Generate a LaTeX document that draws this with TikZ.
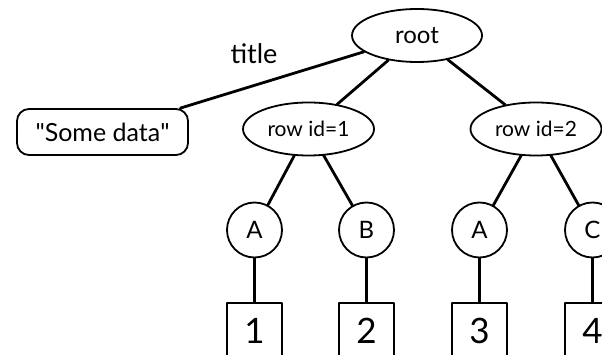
\documentclass[tikz,border=0pt]{standalone}
\usepackage{fontspec}
\setmainfont{Lato}
\usetikzlibrary{shapes.geometric}
\begin{document}
\begin{tikzpicture}[x=1pt, y=-1pt, line join=round, line cap=round,
    oval/.style={ellipse, draw, line width=1.8pt, minimum width=131pt, minimum height=53pt, inner sep=0pt, font=\fontsize{21}{21}\selectfont},
    leaf/.style={circle, draw, line width=1.8pt, minimum size=55pt, inner sep=0pt, font=\fontsize{24}{24}\selectfont},
    val/.style={rectangle, draw, line width=1.8pt, minimum width=55pt, minimum height=55pt, inner sep=0pt, font=\fontsize{35}{35}\selectfont},
    edge/.style={line width=2.8pt}]
    \useasboundingbox (0,0) rectangle (602,355);
    \clip (0,0) rectangle (602,355);
    % tree
    \node[oval, minimum width=130pt, font=\fontsize{24}{24}\selectfont] (root) at (417,35.5) {root};
    \node[draw, rounded corners=12pt, line width=1.8pt, minimum width=171pt, minimum height=46pt, inner sep=0pt, font=\fontsize{25}{25}\selectfont] (data) at (102.5,132) {\textquotedbl Some data\textquotedbl};
    \node[font=\fontsize{27}{27}\selectfont, inner sep=0pt] (title) at (254,53.5) {title};
    \node[oval] (row1) at (308.5,129) {row id=1};
    \node[oval] (row2) at (536,129) {row id=2};
    \foreach \i/\x/\t/\v/\p in {1/254.5/A/1/row1, 2/366.5/B/2/row1, 3/479.5/A/3/row2, 4/592.5/C/4/row2} {
        \node[leaf] (c\i) at (\x,230) {\t};
        \node[val] (b\i) at (\x,330.5) {\v};
        \draw[edge] (\p) -- (c\i);
        \draw[edge] (c\i) -- (b\i);
    }
    \draw[edge] (root) -- (data);
    \draw[edge] (root) -- (row1);
    \draw[edge] (root) -- (row2);
\end{tikzpicture}
\end{document}
